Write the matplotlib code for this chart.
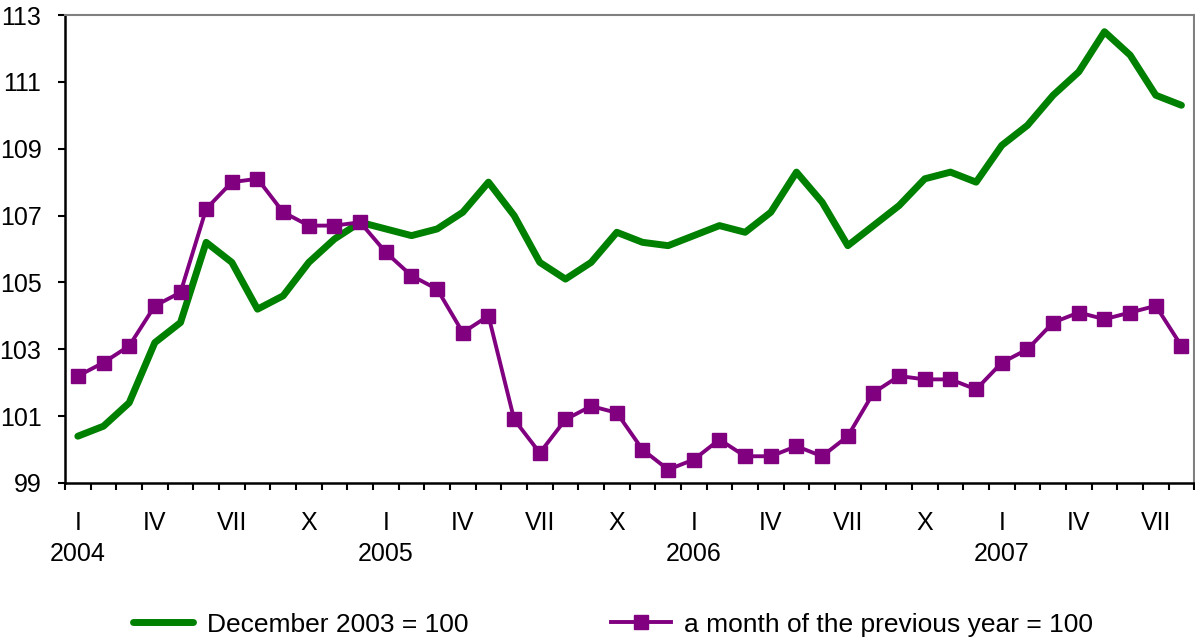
import numpy as np
import matplotlib
matplotlib.use("Agg")
import matplotlib.pyplot as plt
from matplotlib.transforms import blended_transform_factory

plt.rcParams['font.family'] = ['Liberation Sans', 'DejaVu Sans']

# monthly index values, Jan 2004 .. Aug 2007
base_dec2003 = [100.4, 100.7, 101.4, 103.2, 103.8, 106.2, 105.6, 104.2, 104.6, 105.6, 106.3, 106.8,
                106.6, 106.4, 106.6, 107.1, 108.0, 107.0, 105.6, 105.1, 105.6, 106.5, 106.2, 106.1,
                106.4, 106.7, 106.5, 107.1, 108.3, 107.4, 106.1, 106.7, 107.3, 108.1, 108.3, 108.0,
                109.1, 109.7, 110.6, 111.3, 112.5, 111.8, 110.6, 110.3]
prev_year = [102.2, 102.6, 103.1, 104.3, 104.7, 107.2, 108.0, 108.1, 107.1, 106.7, 106.7, 106.8,
             105.9, 105.2, 104.8, 103.5, 104.0, 100.9, 99.9, 100.9, 101.3, 101.1, 100.0, 99.4,
             99.7, 100.3, 99.8, 99.8, 100.1, 99.8, 100.4, 101.7, 102.2, 102.1, 102.1, 101.8,
             102.6, 103.0, 103.8, 104.1, 103.9, 104.1, 104.3, 103.1]
quarter_labels = ["I", "IV", "VII", "X"] * 3 + ["I", "IV", "VII"]
years = ["2004", "2005", "2006", "2007"]
y_ticks = [99, 101, 103, 105, 107, 109, 111, 113]

x = np.arange(len(base_dec2003))

fig = plt.figure(figsize=(11.95, 6.44), dpi=100)
ax = fig.add_axes([0.0544, 0.25, 0.945, 0.7267])

ax.plot(x, base_dec2003, color="#008000", lw=5, solid_capstyle="round",
        solid_joinstyle="round", label="December 2003 = 100")
ax.plot(x, prev_year, color="#800080", lw=2.8, marker="s", ms=9.5,
        label="a month of the previous year = 100")

ax.set_xlim(-0.5, len(x) - 0.5)
ax.set_ylim(99, 113)
ax.set_yticks(y_ticks)
ax.set_yticklabels([str(v) for v in y_ticks], fontsize=18)
ax.tick_params(axis="y", length=5, width=1.5, pad=12)

ax.set_xticks(np.arange(-0.5, len(x)), minor=True)
ax.set_xticks(x[::3])
ax.set_xticklabels(quarter_labels, fontsize=18)
ax.tick_params(axis="x", which="minor", length=5, width=1.5)
ax.tick_params(axis="x", which="major", length=0, pad=20)

tr = blended_transform_factory(ax.transData, ax.transAxes)
for i, yr in enumerate(years):
    ax.text(i * 12, -0.152, yr, transform=tr, ha="center", va="center", fontsize=18)

for side in ["left", "bottom"]:
    ax.spines[side].set_color("black")
    ax.spines[side].set_linewidth(1.8)
for side in ["top", "right"]:
    ax.spines[side].set_color("#808080")
    ax.spines[side].set_linewidth(1.5)

fig.legend(loc="center", bbox_to_anchor=(0.513, 0.03), ncol=2, frameon=False,
           fontsize=19, handlelength=2.3, handletextpad=0.5, columnspacing=5.4,
           numpoints=1)

fig.savefig("out.png", dpi=100)
